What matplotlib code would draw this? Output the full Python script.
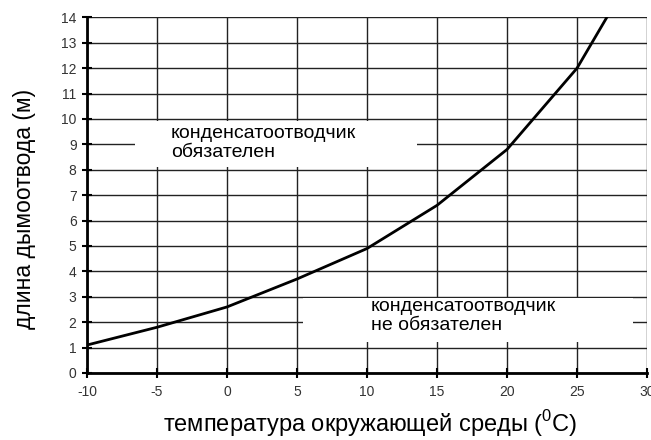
import matplotlib
matplotlib.use('Agg')
import matplotlib.pyplot as plt

plt.rcParams['font.family'] = ['Liberation Sans', 'DejaVu Sans']
plt.rcParams['mathtext.fontset'] = 'custom'
plt.rcParams['mathtext.rm'] = 'Liberation Sans'
plt.rcParams['axes.unicode_minus'] = False

# ambient temperature (C) vs. flue length (m)
temperature = [-10, -5, 0, 5, 10, 15, 20, 25, 30]
flue_length = [1.1, 1.8, 2.6, 3.7, 4.9, 6.6, 8.8, 12.0, 16.7]

x_ticks = [-10, -5, 0, 5, 10, 15, 20, 25, 30]
y_ticks = list(range(0, 15))

zone_upper = 'конденсатоотводчик\nобязателен'
zone_lower = 'конденсатоотводчик\nне обязателен'

fig = plt.figure(figsize=(6.51, 4.4), dpi=100)
ax = fig.add_axes([0.1336, 0.1523, 0.8603, 0.8082])

ax.set_xlim(-10, 30)
ax.set_ylim(0, 14)
ax.set_xticks(x_ticks)
ax.set_yticks(y_ticks)
ax.grid(True, color='#222222', linewidth=1.0)
ax.set_axisbelow(True)

for side in ['top', 'right']:
    ax.spines[side].set_visible(False)
for side in ['left', 'bottom']:
    ax.spines[side].set_linewidth(2.0)
    ax.spines[side].set_color('black')
ax.tick_params(direction='inout', length=7, width=1.5, labelsize=10,
               labelcolor='#333333')
ax.tick_params(axis='x', pad=5)
ax.tick_params(axis='y', pad=4)

ax.plot(temperature, flue_length, color='black', linewidth=2.0,
        solid_joinstyle='round', zorder=4, clip_on=True)

# white label boxes that cut through the grid
ax.fill_between([-6.6, 13.6], 8.1, 9.92, color='white', zorder=2, linewidth=0)
ax.fill_between([5.45, 29.0], 1.22, 2.95, color='white', zorder=2, linewidth=0)

ax.text(-4.0, 9.05, zone_upper, fontsize=14, va='center', ha='left',
        linespacing=1.2, zorder=5)
ax.text(10.25, 2.25, zone_lower, fontsize=14, va='center', ha='left',
        linespacing=1.2, zorder=5)

fig.text(0.568, 0.018, 'температура окружающей среды ($^{0}$C)', fontsize=17,
         ha='center', va='baseline')
fig.text(0.037, 0.525, 'длина дымоотвода (м)', fontsize=16.5, rotation=90,
         ha='center', va='center')

fig.savefig('out.png', dpi=100)
